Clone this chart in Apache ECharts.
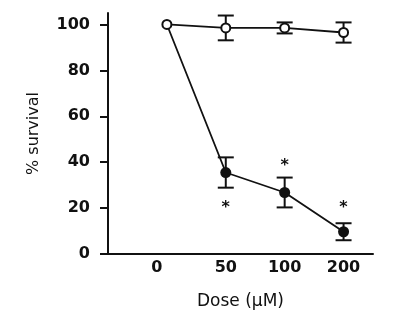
<!DOCTYPE html>
<html>
<head>
<meta charset="utf-8">
<script src="https://cdn.jsdelivr.net/npm/echarts@6/dist/echarts.min.js"></script>
<style>html,body{margin:0;padding:0;background:#fff}#c{width:402px;height:322px}</style>
</head>
<body>
<div id="c"></div>
<script>
const doseLabels = ['0', '50', '100', '200'];
const yTicks = [0, 20, 40, 60, 80, 100];
const controlMean = [100, 98.5, 98.5, 96.5];
const controlErr = [0, 5.4, 2.4, 4.4];
const treatedMean = [100, 35.5, 26.8, 9.7];
const treatedErr = [0, 6.6, 6.5, 3.7];
const starY = [null, 22, 40, 22];

const ink = '#111';
const chart = echarts.init(document.getElementById('c'), null, {renderer: 'canvas'});

function errRender(params, api) {
  const x = api.value(0), m = api.value(1), e = api.value(2);
  if (!e) return null;
  const t = api.coord([x, m + e]);
  const b = api.coord([x, m - e]);
  const hw = 8;
  const st = {stroke: ink, lineWidth: 2};
  return {
    type: 'group',
    children: [
      {type: 'line', shape: {x1: t[0], y1: t[1], x2: b[0], y2: b[1]}, style: st},
      {type: 'line', shape: {x1: t[0] - hw, y1: t[1], x2: t[0] + hw, y2: t[1]}, style: st},
      {type: 'line', shape: {x1: b[0] - hw, y1: b[1], x2: b[0] + hw, y2: b[1]}, style: st}
    ]
  };
}

const ctrlErrData = controlMean.map((m, i) => [i, m, controlErr[i]]);
const trtErrData = treatedMean.map((m, i) => [i, m, treatedErr[i]]);
const starData = starY.map((v, i) => v == null ? null : [i, v]).filter(d => d);

chart.setOption({
  animation: false,
  grid: {left: 108, right: 29, top: 13, bottom: 68},
  xAxis: {
    type: 'value', min: -1, max: 3.5,
    name: 'Dose (\u03bcM)', nameLocation: 'middle', nameGap: 39,
    nameTextStyle: {fontFamily: 'DejaVu Sans', fontSize: 17, color: ink},
    axisLine: {onZero: false, lineStyle: {color: ink, width: 2}},
    axisTick: {show: false},
    splitLine: {show: false},
    axisLabel: {
      customValues: [0, 1, 2, 3],
      formatter: v => v === 0 ? '{a|' + doseLabels[v] + '}' : doseLabels[v],
      rich: {a: {fontFamily: 'DejaVu Sans', fontWeight: 'bold', fontSize: 16, color: ink, padding: [0, 20, 0, 0]}},
      fontFamily: 'DejaVu Sans', fontWeight: 'bold', fontSize: 16, color: ink, margin: 6
    }
  },
  yAxis: {
    type: 'value', min: 0, max: 105,
    name: '% survival', nameLocation: 'middle', nameGap: 66, nameRotate: 90,
    nameTextStyle: {fontFamily: 'DejaVu Sans', fontSize: 16, color: ink},
    axisLine: {show: true, onZero: false, lineStyle: {color: ink, width: 2}},
    axisTick: {show: true, customValues: yTicks, length: 8, lineStyle: {color: ink, width: 2}},
    splitLine: {show: false},
    axisLabel: {
      customValues: yTicks,
      fontFamily: 'DejaVu Sans', fontWeight: 'bold', fontSize: 16, color: ink, margin: 18
    }
  },
  series: [
    {type: 'custom', renderItem: errRender, data: trtErrData, z: 1, encode: {x: 0, y: 1}},
    {type: 'custom', renderItem: errRender, data: ctrlErrData, z: 1, encode: {x: 0, y: 1}},
    {
      type: 'line', z: 3,
      data: treatedMean.map((m, i) => i === 0 ? {value: [i, m], symbol: 'none'} : [i, m]),
      symbol: 'circle', symbolSize: 11,
      itemStyle: {color: ink},
      lineStyle: {color: ink, width: 1.8}
    },
    {
      type: 'line', z: 4,
      data: controlMean.map((m, i) => [i, m]),
      symbol: 'circle', symbolSize: 9,
      itemStyle: {color: '#fff', borderColor: ink, borderWidth: 2},
      lineStyle: {color: ink, width: 1.8}
    },
    {
      type: 'custom', z: 5, data: starData, encode: {x: 0, y: 1},
      renderItem: (params, api) => {
        const p = api.coord([api.value(0), api.value(1)]);
        return {type: 'text', x: p[0], y: p[1] + 4,
          style: {text: '*', fontFamily: 'DejaVu Sans', fontSize: 16, fontWeight: 'bold', fill: ink, align: 'center', verticalAlign: 'middle'}};
      }
    }
  ]
});
</script>
</body>
</html>
